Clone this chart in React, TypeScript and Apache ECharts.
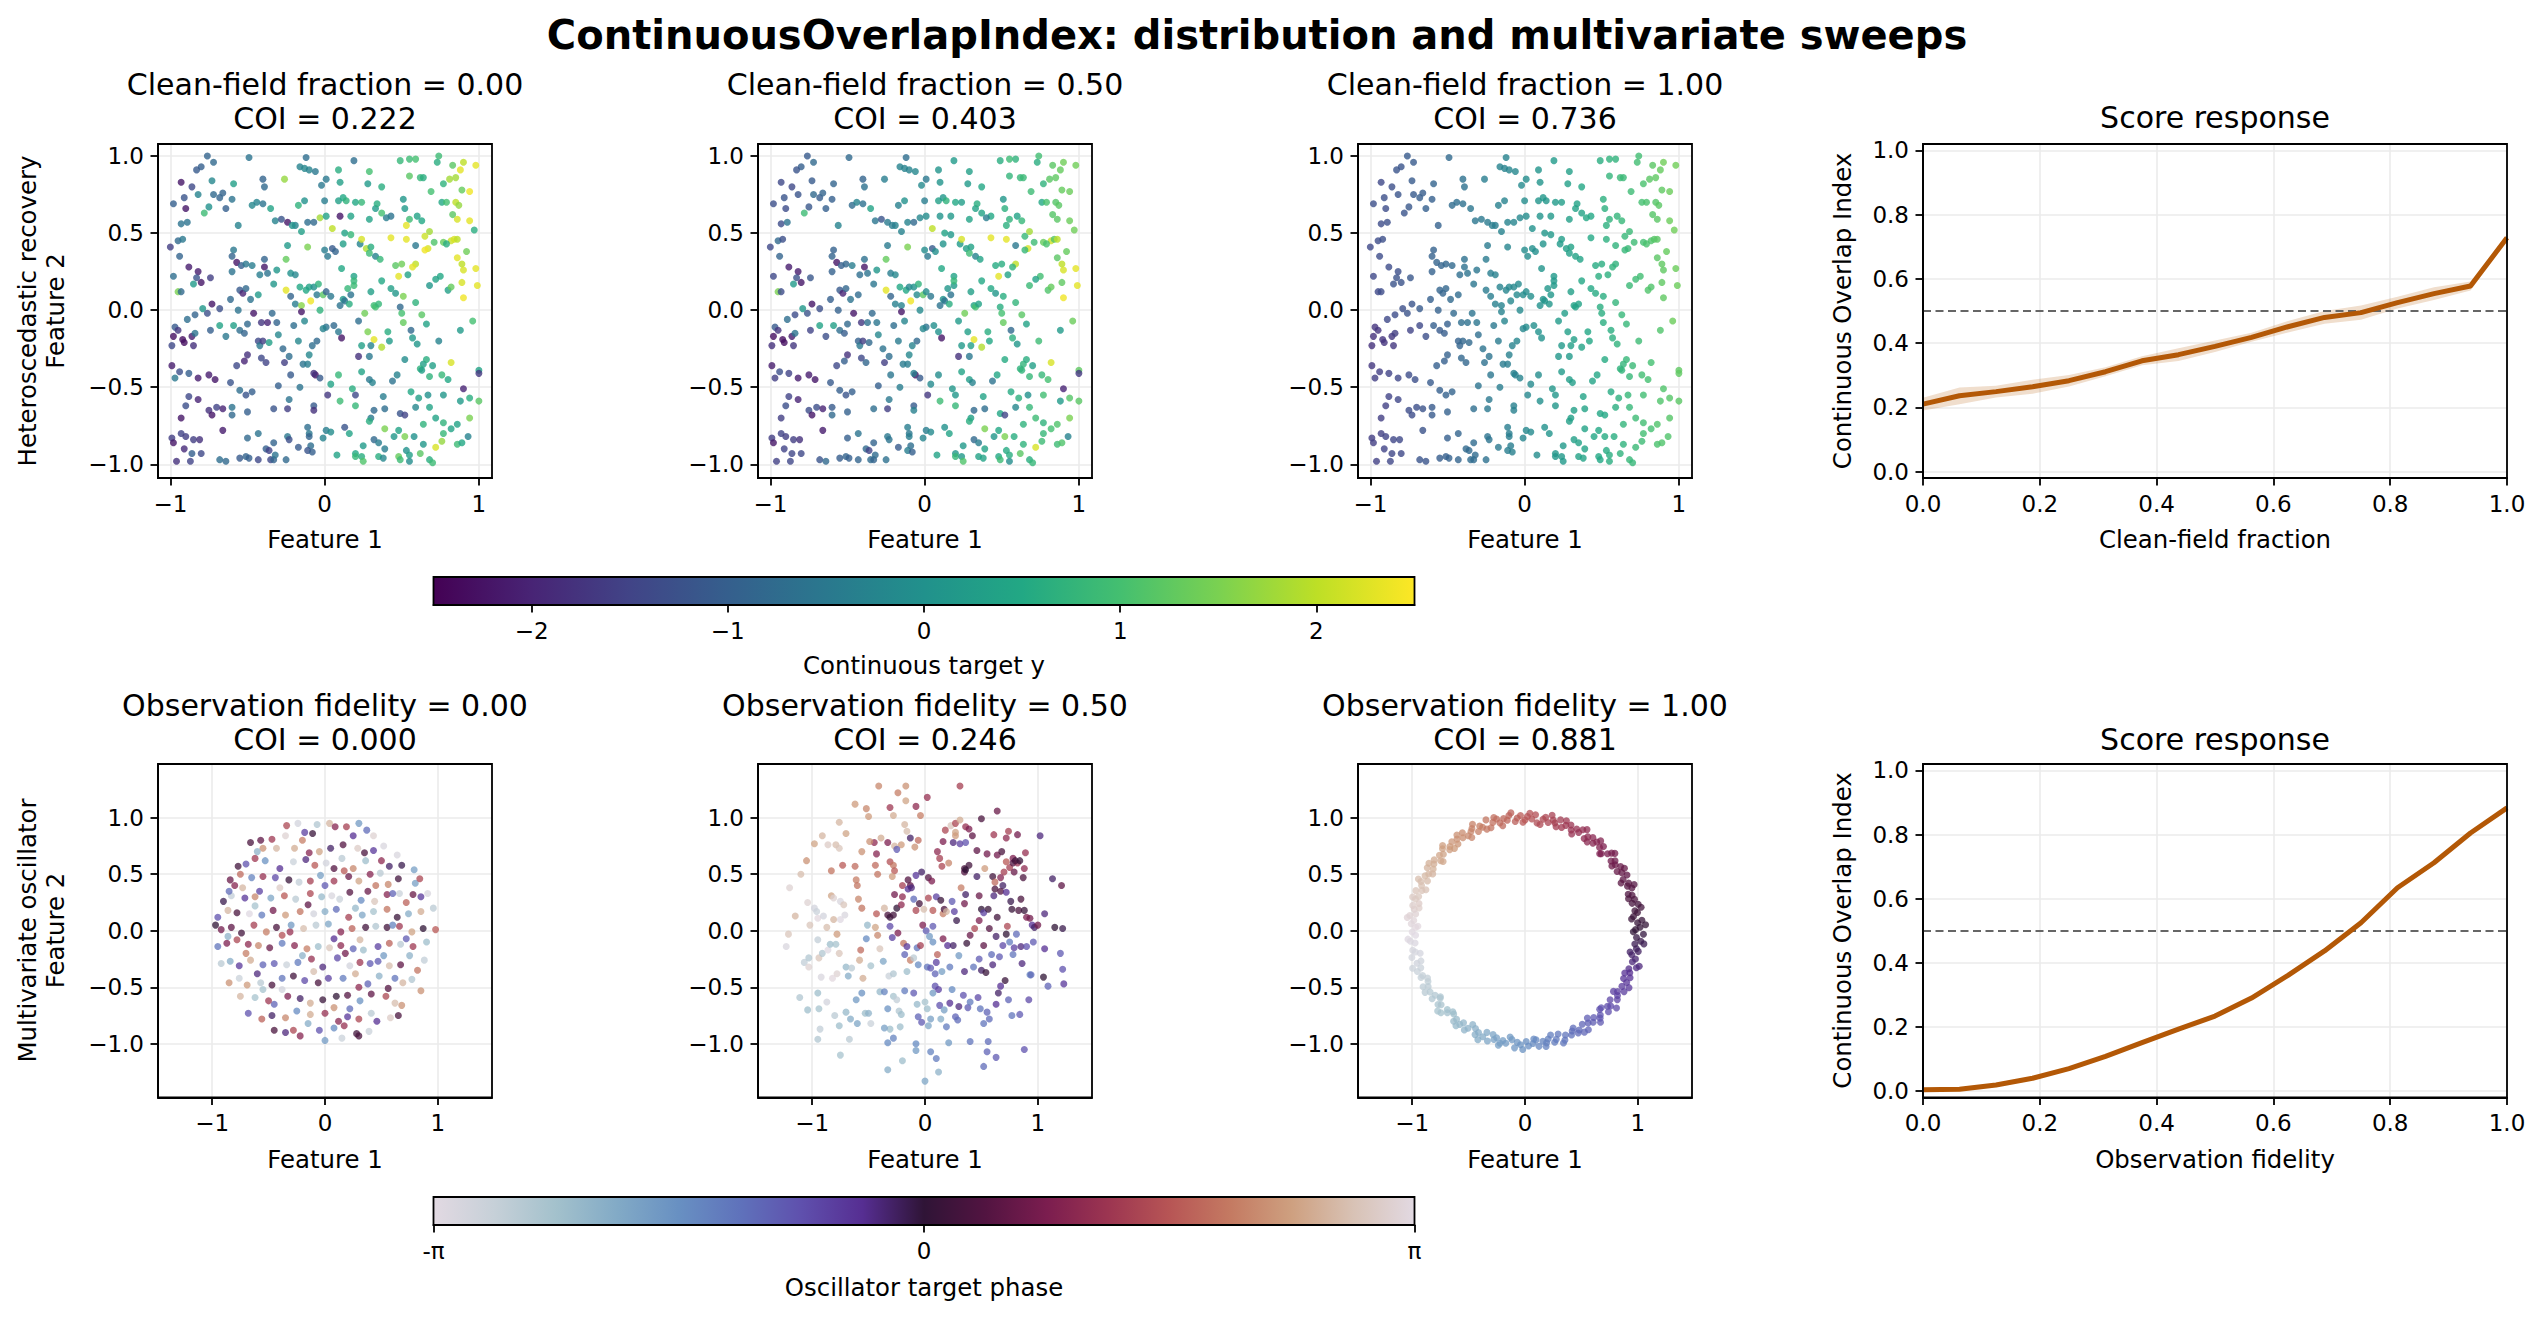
import React, { useEffect, useRef } from "react";
import * as echarts from "echarts";

const FONT = "'DejaVu Sans', 'Liberation Sans', Arial, sans-serif";

// ---------------- DATA ----------------
// Row 1 (heteroscedastic recovery): [feature1, feature2, y @ clean 0.00, y @ clean 0.50, y @ clean 1.00]
const HETERO_POINTS: number[][] = [
[-.76,1.0,-.9,-1.1,-1.1],[-.72,.96,-.8,-.8,-1.1],[-.49,.99,-.6,-.8,-.8],[-.80,.93,-1.0,-1.0,-1.2],[-.83,.91,-1.1,-1.2,-1.2],[-.12,.99,-.7,-.7,-.3],[.19,.97,-.7,.2,.2],[.49,.97,.8,.6,.6],[.55,.98,.9,.9,.7],[.59,.98,1.0,.7,.7],[.74,1.0,.9,.95,.95],[.73,.96,.6,.6,.95],[.90,.96,2.0,1.4,1.4],[.98,.94,2.3,1.4,1.4],[.83,.94,1.2,1.2,1.2],[.88,.91,2.3,1.3,1.3],[.09,.91,.6,.05,.05],[.29,.90,1.0,.3,.3],[-.16,.93,-.3,-.3,-.3],[-.13,.92,-.2,-.3,-.3],[-.10,.91,-.3,-.3,-.25],[-.06,.90,-.5,-.2,-.2],[-.93,.83,-2.2,-1.4,-1.4],[-.86,.80,-1.4,-1.4,-1.3],[-.73,.84,-.2,-1.1,-1.1],[.01,.85,-.5,-.5,-.1],[.10,.83,.3,.05,.05],[.28,.82,.2,.2,.3],[-.26,.85,1.7,-.4,-.4],[-.59,.82,.3,-.9,-.9],[.55,.87,1.2,.75,.75],[.62,.86,.8,.8,.85],[.64,.86,.6,.85,.85],[.77,.82,.7,.7,1.05],[.81,.85,1.8,1.2,1.2],[.85,.86,1.8,1.25,1.25],[-.40,.85,-.9,-.9,-.65],[-.39,.80,-.8,-.65,-.65],[.37,.80,.6,.45,.45],
[-.98,.69,-1.0,-1.3,-1.3],[-.91,.73,-1.2,-1.2,-1.3],[-.90,.66,-2.2,-1.35,-1.35],[-.82,.75,-.3,-1.2,-1.2],[-.78,.63,.9,.9,-1.2],[-.75,.67,.0,-1.15,-1.15],[-.72,.75,-.8,-.8,-1.1],[-.68,.73,-.9,-1.05,-1.05],[-.66,.76,-.9,-.9,-1.05],[-.64,.66,-1.0,-1.0,-1.0],[-.60,.72,-.6,-1.0,-1.0],[-.56,.55,-.3,-.3,-.95],[-.93,.56,-.6,-1.35,-1.35],[-.89,.57,-.6,-.6,-1.3],[-.47,.68,-.2,-.75,-.75],[-.44,.70,-.3,-.3,-.7],[-.40,.69,-.6,-.65,-.65],[-.35,.66,.4,.4,-.55],[-.32,.58,-.3,-.55,-.55],[-.28,.59,-1.2,-1.2,-.5],[-.24,.57,-2.2,-.45,-.45],[-.19,.55,-.3,-.3,-.4],[-.17,.68,.7,-.35,-.35],[-.13,.71,.0,.0,-.3],[-.11,.57,-.7,-.3,-.3],[-.07,.57,-.8,-.8,-.25],[-.03,.60,1.8,-.2,-.2],[.0,.71,-.4,-.4,-.1],[.01,.61,.4,-.1,-.1],[.05,.53,2.0,2.0,0],[.10,.61,-2.2,.05,.05],[.09,.71,.3,.3,.05],[.12,.73,.5,.1,.1],[.14,.71,.7,.7,.1],[.17,.61,.4,.15,.15],[.20,.70,.5,.5,.2],[.24,.70,.8,.25,.25],[.29,.59,.4,.4,.3],[.33,.66,.2,.35,.35],[.34,.69,.6,.6,.4],[.37,.63,1.0,.4,.4],[.43,.61,-.6,.5,.5],[.40,.60,-.4,-.4,.5],[.52,.66,.2,.65,.65],[.51,.72,.1,.1,.65],[.55,.59,.9,.7,.7],[.60,.61,.4,.4,.75],[.63,.58,.5,.8,.8],[.69,.77,1.0,.9,.9],[.76,.70,.5,.5,1.0],[.79,.70,1.0,1.05,1.05],[.85,.70,2.0,1.15,1.15],[.87,.68,1.7,1.2,1.2],[.89,.78,1.3,1.3,1.25],[.94,.77,2.4,1.35,1.35],[.94,.58,2.3,1.35,1.35],[.86,.59,2.2,1.2,1.2],[.83,.62,1.2,1.15,1.15],[.97,.52,.6,1.4,1.4],[.53,.55,2.3,.65,.65],[-.02,.81,-.5,-.15,-.15],[-.21,.55,.0,-.4,-.4],
[-1.0,.41,-1.6,-1.4,-1.4],[-.95,.45,-.8,-.8,-1.35],[-.92,.46,-.5,-1.3,-1.3],[-.94,.35,-.9,-.9,-1.35],[-.98,.22,-.7,-1.4,-1.4],[-.88,.28,-2.1,-2.1,-1.35],[-.82,.25,-2.1,-2.1,-1.3],[-.83,.21,-1.2,-1.25,-1.25],[-.80,.18,-2.2,-2.2,-1.25],[-.74,.21,-1.6,-1.15,-1.15],[-.85,.17,.2,.2,-1.25],[-.60,.25,-.6,-.95,-.95],[-.57,.31,-2.2,-2.2,-.9],[-.54,.29,-1.0,-1.0,-.9],[-.59,.39,-.5,-.95,-.95],[-.60,.35,-.9,-.9,-.95],[-.51,.30,-.5,-.85,-.85],[-.47,.29,-.4,-.4,-.8],[-.42,.23,-.4,-.7,-.7],[-.39,.28,-2.2,-2.2,-.65],[-.39,.33,-.9,-.65,-.65],[-.37,.24,-.6,-.6,-.6],[-.33,.17,.1,-.55,-.55],[-.31,.26,.1,.1,-.55],[-.24,.42,.2,-.45,-.45],[-.25,.33,1.3,1.3,-.45],[-.22,.24,.0,-.4,-.4],[-.19,.23,-.2,-.2,-.35],[-.15,.51,.3,-.3,-.3],[-.11,.41,1.5,1.5,-.25],[.0,.39,-.4,-.1,-.1],[.02,.35,-.5,-.5,-.1],[.05,.40,-1.1,-1.1,-.05],[.07,.38,-.9,-.05,-.05],[.11,.27,.5,.5,.05],[.12,.43,.3,.05,.05],[.13,.50,.4,.4,.1],[.17,.49,.8,.15,.15],[.19,.22,.4,.4,.15],[.23,.43,-.3,.2,.2],[.24,.46,2.2,2.2,.25],[.27,.40,1.9,.3,.3],[.29,.37,.9,.9,.3],[.30,.41,.6,.35,.35],[.33,.35,-.3,-.3,.35],[.36,.33,.8,.4,.4],[.43,.47,2.3,2.3,.5],[.46,.29,1.2,.55,.55],[.48,.22,2.3,2.3,.6],[.53,.46,2.3,2.3,.65],[.50,.30,1.4,.6,.6],[.54,.23,.4,.4,.65],[.59,.30,2.0,2.0,.7],[.59,.42,-.5,-.5,.7],[.65,.48,2.1,.8,.8],[.67,.40,2.2,2.2,.85],[.68,.51,1.8,1.8,.85],[.65,.39,2.4,.8,.8],[.71,.44,1.1,.9,.9],[.77,.44,1.3,1.3,1.0],[.75,.22,.5,.95,.95],[.72,.20,.4,.4,.9],[.82,.45,2.1,2.1,1.1],[.84,.46,2.2,1.15,1.15],[.86,.46,2.0,2.0,1.2],[.86,.34,2.3,1.2,1.2],[.89,.30,2.0,2.0,1.25],[.90,.26,2.2,2.2,1.25],[.92,.38,1.4,1.3,1.3],[.98,.27,2.3,2.3,1.35],[.79,.43,.6,1.05,1.05],[.57,.28,2.3,.7,.7],
[-.95,.12,1.5,1.5,-1.4],[-.93,.12,-.8,-1.35,-1.35],[-.89,-.06,-.7,-.7,-1.4],[-.84,-.03,-.9,-1.35,-1.35],[-.79,.01,.1,.1,-1.3],[-.76,-.02,-1.3,-1.25,-1.25],[-.73,.04,-2.2,-2.2,-1.2],[-.68,.01,-1.3,-1.3,-1.1],[-.61,.07,-.8,-1.0,-1.0],[-.59,-.10,.3,.3,-1.0],[-.56,.0,-.6,-.95,-.95],[-.55,.13,-1.1,-1.1,-.9],[-.53,.11,-2.0,-2.0,-.9],[-.51,.14,-.8,-.85,-.85],[-.48,.07,-.6,-.6,-.8],[-.46,-.02,-2.2,-2.2,-.8],[-.43,.10,.2,-.75,-.75],[-.41,-.08,-1.7,-1.7,-.7],[-.37,-.08,-2.0,-.65,-.65],[-.34,-.02,-.8,-.8,-.6],[-.31,-.08,-.9,-.55,-.55],[-.22,.09,-.9,-.9,-.4],[-.25,.13,2.3,2.3,-.45],[-.19,.04,-.4,-.35,-.35],[-.16,.15,.5,.5,-.3],[-.15,.03,1.6,-.3,-.3],[-.15,-.01,-2.2,-2.2,-.3],[-.13,-.07,-.2,-.25,-.25],[-.12,.13,.5,.5,-.25],[-.10,.15,.4,-.2,-.2],[-.09,.06,2.4,2.4,-.2],[-.07,.15,.0,.0,-.2],[-.05,.10,-.5,-.15,-.15],[-.04,.17,.7,.7,-.15],[-.03,.0,.7,-.15,-.15],[-.01,.10,1.2,1.2,-.1],[.01,.12,-.9,-.1,-.1],[.04,.09,-.5,-.5,-.05],[.06,-.1,-.8,-.05,-.05],[.10,.03,-.6,-.6,0],[.12,.07,.2,.05,.05],[.13,.06,-.6,-.6,.05],[.15,.14,.8,.1,.1],[.17,.10,-.6,-.6,.1],[.19,.16,.9,.15,.15],[.16,.04,.6,.6,.1],[.19,.19,.8,.8,.15],[.22,-.07,-.7,.2,.2],[.26,-.02,1.4,1.4,.25],[.30,.12,.3,.3,.3],[.32,.03,.9,.35,.35],[.33,.02,1.0,1.0,.35],[.35,.04,.8,.4,.4],[.37,.19,.5,.5,.45],[.43,.14,.3,.5,.5],[.46,.11,.1,.1,.55],[.49,.02,-.8,.6,.6],[.50,-.02,1.0,1.0,.6],[.51,.09,1.5,.6,.6],[.51,-.08,1.3,1.3,.6],[.59,.05,.7,.75,.75],[.63,-.03,1.2,1.2,.8],[.68,.16,.1,.85,.85],[.66,-.09,.4,.4,.8],[.80,.13,.3,1.1,1.1],[.82,.15,1.3,1.3,1.1],[.90,.08,2.4,2.4,1.25],[.96,-.07,1.0,1.35,1.35],[.99,.16,2.3,2.3,1.35],[.89,.18,2.2,1.25,1.25],[.01,-.11,-.6,-.6,-.1],
[-.98,-.17,-2.3,-2.3,-1.8],[-.99,-.23,-1.4,-1.8,-1.8],[-.97,-.11,-1.1,-1.1,-1.75],[-.95,-.13,-1.7,-1.75,-1.75],[-.92,-.19,-2.3,-2.3,-1.75],[-.91,-.21,-2.3,-2.3,-1.75],[-.86,-.17,-2.1,-2.1,-1.7],[-.85,-.23,-1.8,-1.7,-1.7],[-.84,-.15,-.6,-.6,-1.6],[-.74,-.13,-1.0,-1.5,-1.5],[-.68,-.10,.4,.4,-1.4],[-.64,-.17,-.5,-1.3,-1.3],[-.55,-.13,-.7,-.7,-1.1],[-.52,-.15,-.9,-1.05,-1.05],[-.50,-.09,-.8,-.8,-1.0],[-.43,-.20,-1.4,-.95,-.95],[-.42,-.23,-.5,-.5,-.9],[-.40,-.20,-1.6,-1.6,-.85],[-.36,-.21,.3,-.8,-.8],[-.30,-.16,-.2,-.2,-.7],[-.27,-.25,-.8,-.6,-.6],[-.20,-.10,-.7,-.7,-.5],[-.17,-.20,-.2,-.45,-.45],[-.10,-.29,-.2,-.2,-.35],[-.08,-.23,-.7,-.3,-.3],[-.05,-.20,-.8,-.8,-.25],[-.01,-.12,-.3,-.2,-.2],[.11,-.18,-2.2,-2.2,0],[.09,-.14,-.5,0,0],[.22,-.30,-1.8,-1.8,.1],[.24,-.23,.3,.15,.15],[.29,-.30,-.5,-.5,.2],[.28,-.14,1.5,.3,.3],[.32,-.19,2.3,2.3,.3],[.30,-.23,-.3,.3,.3],[.37,-.24,1.9,1.9,.4],[.42,-.20,.2,.45,.45],[.41,-.14,.6,.6,.45],[.52,-.32,-.1,.55,.55],[.56,-.13,-.8,-.8,.6],[.57,-.18,.2,.65,.65],[.60,-.22,.1,.1,.7],[.64,-.35,.3,.75,.75],[.66,-.32,.6,.6,.8],[.68,-.43,.7,.8,.8],[.70,-.36,.3,.3,.85],[.74,-.20,-.3,.9,.9],[.76,-.42,.8,.8,.95],[.82,-.34,2.2,2.2,1.0],[.80,-.45,.5,1.0,1.0],[.88,-.13,.2,.2,1.1],[1.0,-.39,.4,1.25,1.25],[1.0,-.41,-1.7,-1.7,1.25],[-.61,-.47,-1.2,-1.1,-1.1],[-.71,-.45,-2.2,-2.2,-1.3],[-.75,-.42,-2.1,-2.1,-1.35],[-.82,-.44,-2.1,-2.1,-1.45],[-.88,-.41,-1.0,-1.5,-1.5],[-.94,-.40,-1.3,-1.3,-1.6],[-.99,-.36,-2.1,-2.1,-1.7],[-.97,-.44,-.5,-1.6,-1.6],[-.57,-.36,-1.4,-1.4,-1.0],[-.52,-.33,-2.0,-1.0,-1.0],[-.50,-.29,-1.8,-1.8,-.95],[-.38,-.34,-1.5,-.85,-.85],[-.41,-.31,-1.4,-1.4,-.85],[-.26,-.34,-1.6,-1.6,-.65],[-.22,-.42,-1.1,-.55,-.55],[-.23,-.30,-.7,-.7,-.6],[-.14,-.35,-.6,-.45,-.45],[-.11,-.35,-.4,-.4,-.4],[-.06,-.42,-2.3,-2.3,-.35],[-.07,-.41,-1.8,-.35,-.35],[-.03,-.44,-1.1,-1.1,-.3],[.09,-.42,.8,-.1,-.1],[.24,-.40,.4,.4,.2],[.29,-.45,-.5,.25,.25],[.31,-.47,-.3,-.3,.25],[.47,-.42,-.3,.45,.45],[.44,-.46,-.6,-.6,.4],[.62,-.38,.7,.7,.7],[.63,-.39,.3,.75,.75],
[-.88,-.56,-1.4,-1.5,-1.5],[-.90,-.62,-1.3,-1.3,-1.55],[-.93,-.70,-2.2,-1.6,-1.6],[-.82,-.58,-2.0,-2.0,-1.45],[-.75,-.65,-1.8,-1.35,-1.35],[-.73,-.68,-2.2,-2.2,-1.35],[-.70,-.63,-1.5,-1.3,-1.3],[-.66,-.64,-2.0,-2.0,-1.25],[-.60,-.63,-.6,-1.1,-1.1],[-.60,-.68,-.8,-.8,-1.1],[-.55,-.52,-.7,-1.0,-1.0],[-.51,-.55,-1.2,-1.2,-.95],[-.50,-.66,-1.0,-.95,-.95],[-.47,-.53,-1.0,-1.0,-.9],[-.33,-.64,-1.2,-.7,-.7],[-.30,-.49,-1.0,-1.0,-.6],[-.23,-.58,-.6,-.5,-.5],[-.24,-.64,-1.6,-1.6,-.5],[-.16,-.50,-.6,-.4,-.4],[-.07,-.62,-1.1,-1.1,-.35],[-.07,-.65,-1.8,-.35,-.35],[.02,-.55,-1.7,-1.7,-.2],[.04,-.48,.4,-.15,-.15],[.10,-.59,.9,.9,-.05],[.18,-.51,.6,.1,.1],[.20,-.62,.8,.8,.1],[.20,-.55,-1.4,.1,.1],[.32,-.65,-.8,-.8,.3],[.30,-.70,-.5,.3,.3],[.29,-.72,.6,.6,.3],[.38,-.56,-.4,.4,.4],[.39,-.64,-.7,-.7,.4],[.49,-.67,-1.2,.45,.45],[.52,-.68,-1.5,-1.5,.5],[.56,-.53,.5,.55,.55],[.59,-.63,-.2,-.2,.6],[.61,-.57,.3,.65,.65],[.64,-.74,.7,.7,.75],[.68,-.63,.4,.8,.8],[.67,-.55,.0,.0,.8],[.72,-.70,.4,.9,.9],[.77,-.73,.7,.7,.95],[.77,-.55,.1,.95,.95],[.88,-.59,.2,.2,1.1],[.90,-.51,-2.0,-2.0,1.1],[.94,-.57,.6,1.15,1.15],[.94,-.70,1.5,1.5,1.15],[1.0,-.59,1.2,1.2,1.2],[.86,-.74,.4,1.1,1.1],
[-.99,-.83,-1.6,-1.6,-1.6],[-.98,-.86,-2.2,-2.2,-1.6],[-.96,-.98,-1.8,-1.55,-1.55],[-.93,-.80,-1.5,-1.5,-1.55],[-.91,-.90,-1.9,-1.5,-1.5],[-.90,-.82,-1.6,-1.6,-1.5],[-.87,-.98,-1.5,-1.45,-1.45],[-.85,-.84,-1.6,-1.6,-1.45],[-.86,-.93,-1.0,-1.45,-1.45],[-.81,-.84,-1.8,-1.8,-1.4],[-.80,-.93,-1.4,-1.4,-1.4],[-.68,-.97,-.7,-1.2,-1.2],[-.64,-.98,-.8,-.8,-1.2],[-.66,-.78,-2.1,-2.1,-1.25],[-.55,-.96,-1.1,-1.05,-1.05],[-.51,-.95,-.9,-.9,-1.0],[-.50,-.83,-.8,-1.0,-1.0],[-.49,-.96,-1.0,-1.0,-.95],[-.43,-.97,-1.4,-.9,-.9],[-.43,-.80,-.6,-.6,-.9],[-.38,-.90,-1.0,-.8,-.8],[-.36,-.91,-1.5,-1.5,-.8],[-.35,-.97,-1.4,-.75,-.75],[-.33,-.97,-.9,-.9,-.75],[-.32,-.94,-.6,-.75,-.75],[-.33,-.86,-.9,-.9,-.75],[-.25,-.97,-.8,-.65,-.65],[-.24,-.82,-.5,-.5,-.6],[-.23,-.84,-1.3,-.6,-.6],[-.17,-.89,-1.1,-1.1,-.5],[-.11,-.76,-.7,-.4,-.4],[-.10,-.80,-.5,-.5,-.4],[-.10,-.82,-.9,-.4,-.4],[-.09,-.88,-.7,-.7,-.4],[-.11,-.91,-1.2,-.4,-.4],[-.08,-.92,-1.0,-1.0,-.35],[-.01,-.83,-.3,-.25,-.25],[.01,-.78,-.4,-.4,-.2],[.04,-.79,-.1,-.15,-.15],[.08,-.94,.4,.4,-.1],[.13,-.76,-1.2,0,0],[.16,-.80,.4,.4,.05],[.20,-.93,.5,.1,.1],[.20,-.95,.8,.8,.1],[.24,-.95,.6,.15,.15],[.25,-.98,1.1,1.1,.15],[.25,-.88,.2,.15,.15],[.32,-.84,-.8,-.8,.3],[.35,-.95,.6,.35,.35],[.35,-.86,-.4,-.4,.35],[.38,-.96,-.2,.4,.4],[.39,-.77,1.5,1.5,.4],[.39,-.90,-.4,.4,.4],[.45,-.82,.1,.1,.45],[.48,-.95,1.3,.5,.5],[.49,-.97,.9,.9,.5],[.48,-.78,.4,.5,.5],[.52,-.82,1.5,1.5,.55],[.53,-.91,.0,.55,.55],[.55,-.98,-.1,-.1,.6],[.58,-.82,.0,.6,.6],[.62,-.93,1.2,1.2,.7],[.64,-.87,.1,.7,.7],[.68,-.97,.6,.6,.8],[.70,-.99,.9,.8,.8],[.72,-.89,2.2,2.2,.85],[.76,-.85,1.7,.9,.9],[.77,-.80,.8,.8,.95],[.82,-.77,.4,1.0,1.0],[.86,-.87,.9,.9,1.05],[.89,-.86,.5,1.1,1.1],[.93,-.82,-.3,-.3,1.1],[.55,-.94,.3,.6,.6]
];

// Row 2, fidelity 0.00: [feature1, feature2, phase]
const OSC_FID0: number[][] = [
[-.34,.93,1.4],[-.24,.95,-2.9],[-.07,.94,-2.5],[.04,.95,2.6],[.19,.92,1.3],[.30,.95,-1.7],
[-.47,.81,1.2],[-.35,.84,3.0],[-.18,.87,-.6],[-.11,.86,.1],[.09,.92,.9],[.37,.89,-1.1],[.43,.84,3.0],[-.57,.80,.5],
[-.66,.78,.3],[-.55,.73,2.2],[-.43,.73,2.6],[-.27,.73,2.5],[-.14,.69,.9],[-.05,.70,2.4],[.05,.73,-.2],[.16,.76,.4],[.29,.73,2.9],[.35,.69,.3],[.43,.71,-.5],[.52,.75,-3.0],[.64,.67,-3.0],
[-.77,.57,.2],[-.70,.59,-.8],[-.62,.64,1.2],[-.53,.62,-1.6],[-.40,.55,-.4],[-.28,.61,-2.8],[-.17,.63,-.3],[-.09,.58,1.6],[.01,.60,-2.9],[.08,.55,.4],[.17,.53,1.6],[.25,.55,2.1],[.36,.62,-2.3],[.49,.51,-2.6],[.57,.57,-.2],[.68,.58,-.1],[.79,.54,-1.8],
[-.84,.45,.6],[-.80,.40,.9],[-.73,.38,2.6],[-.65,.47,-1.4],[-.55,.48,1.1],[-.44,.47,-.7],[-.32,.45,.1],[-.23,.43,-2.7],[-.13,.44,1.3],[-.04,.49,-1.8],[.08,.44,1.2],[.21,.48,.6],[.30,.44,2.4],[.45,.40,1.9],[.56,.41,2.1],[.65,.46,.2],[.80,.42,-1.8],[.84,.46,1.4],
[-.90,.26,-.1],[-.83,.31,-2.7],[-.71,.29,-.5],[-.62,.30,2.1],[-.48,.29,-1.9],[-.36,.31,1.6],[-.26,.28,-2.6],[-.13,.33,1.4],[-.03,.30,-2.2],[.06,.31,-3.0],[.13,.28,-2.8],[.22,.34,.4],[.32,.27,-1.5],[.44,.26,2.8],[.55,.32,.9],[.66,.33,-2.8],[.78,.32,.6],[.91,.33,-3.0],
[-.95,.12,-.8],[-.86,.18,2.6],[-.78,.16,.3],[-.67,.15,-3.1],[-.56,.14,-1.3],[-.46,.18,.7],[-.35,.14,2.3],[-.22,.17,1.9],[-.10,.15,-2.9],[.0,.17,-2.0],[.10,.19,-1.1],[.21,.12,1.3],[.33,.14,-1.9],[.43,.17,-2.4],[.55,.19,1.9],[.64,.12,.1],[.74,.15,-2.0],[.85,.17,2.5],[.96,.20,-2.6],
[-.97,.05,0],[-.92,.01,.7],[-.83,.03,.5],[-.74,-.02,.2],[-.63,.05,1.3],[-.52,-.01,2.0],[-.43,.03,.3],[-.31,-.01,1.1],[-.19,.02,2.7],[-.08,.05,-2.6],[.03,.06,-1.9],[.14,-.01,.9],[.24,.02,1.7],[.36,.03,.2],[.45,.04,-2.5],[.55,.03,.2],[.66,.04,1.2],[.77,-.01,2.4],[.87,.02,0],[.98,.01,1.6],
[-.95,-.14,-1.2],[-.87,-.11,.8],[-.78,-.08,1.4],[-.68,-.12,1.0],[-.59,-.13,2.1],[-.49,-.15,.6],[-.38,-.11,-1.3],[-.27,-.13,.9],[-.16,-.16,2.0],[-.06,-.14,-2.3],[.04,-.15,2.8],[.14,-.13,1.0],[.25,-.16,-1.0],[.34,-.17,-2.3],[.47,-.14,-.6],[.57,-.11,1.7],[.67,-.12,-2.6],[.78,-.14,1.2],[.90,-.10,-2.3],
[-.92,-.29,-2.6],[-.84,-.27,-2.0],[-.76,-.31,-.5],[-.66,-.26,2.5],[-.55,-.30,-1.0],[-.45,-.29,-.9],[-.34,-.30,-2.8],[-.24,-.28,-1.3],[-.12,-.25,1.1],[-.02,-.32,-.3],[.11,-.24,-.7],[.22,-.31,-2.9],[.31,-.28,1.2],[.40,-.29,-.9],[.47,-.27,-.9],[.57,-.31,2.7],[.67,-.30,.5],[.75,-.22,-2.1],[.88,-.26,-2.7],
[-.85,-.46,2.2],[-.76,-.42,-2.8],[-.69,-.48,2.3],[-.57,-.46,-2.6],[-.47,-.48,.3],[-.38,-.42,-1.2],[-.28,-.40,.2],[-.18,-.44,-.7],[-.06,-.46,.3],[.03,-.42,-.6],[.16,-.42,-1.3],[.27,-.38,2.5],[.38,-.47,-1.0],[.48,-.40,-2.1],[.56,-.51,.4],[.69,-.46,2.6],[.77,-.43,-2.5],[.85,-.53,2.2],
[-.75,-.58,2.6],[-.62,-.59,-2.4],[-.55,-.52,-2.4],[-.45,-.65,-1.0],[-.33,-.58,.8],[-.22,-.60,-.2],[-.13,-.64,2.5],[-.02,-.61,.1],[.10,-.58,0],[.20,-.57,.4],[.31,-.62,-1.6],[.41,-.56,.5],[.54,-.58,1.4],[.62,-.64,2.7],[.68,-.66,2.2],
[-.68,-.73,-.8],[-.56,-.78,1.7],[-.47,-.75,-.2],[-.35,-.77,2.1],[-.25,-.71,-1.5],[-.13,-.74,2.5],[0,-.73,1.1],[.12,-.80,.9],[.20,-.76,-.5],[.30,-.78,1.4],[.41,-.73,-2.6],[.58,-.77,2.9],[.65,-.75,.3],
[-.45,-.88,.3],[-.35,-.90,-.3],[-.22,-.93,.9],[-.05,-.88,-.8],[0,-.97,-1.7],[.08,-.86,-1.5],[.15,-.95,-2.8],[.17,-.84,1.1],[.28,-.91,.2],[.39,-.89,-2.8],[-.28,-.88,1.4],[.30,-.93,.3],
[-.60,.70,-2.1],[-.20,.80,2.0],[.25,.84,-.4],[.50,.62,1.0],[-.85,.35,-1.1],[-.40,.38,2.9],[0,.40,-.9],[.38,.35,.6],[.72,.25,1.7],[-.62,.22,-2.4],[-.15,.23,.5],[.27,.20,-2.2],[.60,.05,-1.4],[-.86,-.05,-2.1],[-.38,-.04,1.5],[.08,-.07,-.4],[.31,-.08,2.6],[.72,-.07,-.9],[-.70,-.20,2.0],[-.20,-.22,-2.1],[.18,-.20,.7],[.52,-.22,-1.7],[.82,-.35,1.9],[-.60,-.38,-.3],[-.10,-.36,2.7],[.30,-.50,1.0],[.62,-.42,-1.2],[-.38,-.52,-2.9],[.08,-.68,2.2],[.46,-.80,-.4],[-.50,-.62,1.2],[-.15,-.82,-2.0],[.22,-.69,-1.1],[-.58,.35,-.6],[.15,.64,-2.6],[.60,.33,-1.0],[-.30,.05,-1.7],[.40,.50,.9],[-.75,.50,1.8],[.85,.30,-.5]
];

// Row 2, fidelity 0.50: [feature1, feature2, phase]
const OSC_FID50: number[][] = [
[-.41,1.28,2.1],[-.24,1.22,2.0],[-.17,1.28,2.2],[-.17,1.15,2.4],[.02,1.18,1.1],[.31,1.28,1.3],[-.31,1.09,1.2],[-.08,1.10,1.0],[-.04,1.02,2.0],[-.28,1.02,2.5],[-.62,1.12,2.3],[-.52,1.08,2.1],[-.50,1.01,2.3],[-.76,.96,2.6],[-.70,.86,2.4],[-.91,.84,2.6],[-.98,.77,2.4],[-.18,.94,2.6],[-.16,.88,2.7],[-.13,.82,-.2],[-.06,.80,1.8],[-.09,.74,2.2],[-.39,.82,2.5],[-.45,.78,1.0],[-.49,.79,2.2],[-.33,.78,.8],[-.27,.75,2.6],[-.21,.76,2.3],[-.25,.72,-.9],[.18,.89,1.4],[.23,.93,2.8],[.27,.95,1.4],[.31,.98,2.5],[.36,.92,1.1],[.39,.90,.8],[.42,.84,.5],[.27,.87,2.4],[.25,.78,-.3],[.31,.77,-.6],[.36,.78,-.8],[.50,.99,.3],[.64,1.06,.6],[.61,.85,1.2],[.74,.88,1.3],[.82,.85,.7],[.72,.82,1.0],[1.02,.84,-.3],
[-1.05,.62,2.2],[-1.10,.50,2.7],[-.83,.53,1.9],[-.86,.76,2.9],[-.79,.76,2.7],[-.76,.73,2.8],[-.73,.58,1.6],[-.62,.57,1.8],[-.61,.45,2.0],[-.60,.40,1.9],[-.56,.70,2.2],[-.43,.68,.9],[-.44,.58,1.8],[-.31,.61,1.5],[-.28,.58,1.9],[-.27,.53,1.6],[-.42,.50,1.9],[-.29,.48,2.3],[-.15,.45,.4],[-.20,.40,1.3],[-.13,.40,.5],[-.08,.49,-.5],[-.03,.52,-.2],[.03,.47,.4],[.06,.44,.8],[.11,.70,1.0],[.13,.64,1.3],[.15,.57,1.4],[.16,.79,.8],[.21,.60,2.1],[.27,.84,2.3],[.35,.55,.3],[.39,.58,.2],[.35,.52,.4],[.36,.54,0],[.46,.48,-.2],[.46,.71,.5],[.53,.55,2.3],[.55,.68,.7],[.60,.48,.2],[.64,.67,.7],[.68,.70,.3],[.70,.52,1.3],[.72,.61,1.6],[.75,.56,1.3],[.78,.64,.8],[.78,.60,.4],[.79,.52,.6],[.82,.60,1.1],[.80,.62,.2],[.84,.62,.1],[.88,.55,1.0],[.89,.69,1.1],[.87,.47,.3],[1.13,.46,-.2],[1.21,.40,.5],[.62,.43,1.8],[.67,.47,.9],[.69,.40,-.2],
[-1.20,.38,3.0],[-1.15,.13,2.6],[-1.21,-.03,2.8],[-1.04,.25,3.0],[-1.02,.05,2.8],[-.98,.20,-2.9],[-.95,.11,3.1],[-.96,.17,-2.8],[-.90,.13,-2.9],[-.87,.03,2.7],[-.83,.31,2.4],[-.81,.29,3.0],[-.81,.10,2.6],[-.75,.26,-3.0],[-.75,.10,-3.1],[-.72,.23,2.8],[-.71,.14,-3.0],[-.78,-.03,2.3],[-.59,.28,2.1],[-.56,.20,1.9],[-.51,.05,-2.2],[-.43,.15,1.6],[-.44,.03,2.4],[-.42,-.04,2.1],[-.36,.20,2.6],[-.33,.14,.3],[-.31,.12,.1],[-.28,.14,.2],[-.31,.04,-.7],[-.27,.32,.7],[-.25,.20,0],[-.21,.23,1.0],[-.20,.30,1.0],[-.15,.37,-.4],[-.12,.38,-.3],[-.10,.28,-1.1],[-.08,.18,1.4],[-.05,.24,.2],[-.02,.05,.8],[-.01,.19,2.7],[.03,.29,1.4],[.07,.18,1.6],[.07,.04,-.9],[.10,.30,-.6],[.14,.27,.1],[.16,.15,2.0],[.17,.19,.3],[.19,.17,2.6],[.24,.26,-.9],[.26,.17,-.6],[.28,.09,-.1],[.32,.38,2.0],[.35,.24,.7],[.36,.32,-.2],[.44,.02,1.4],[.48,.09,.8],[.50,.19,0],[.52,.16,-.6],[.56,.19,.1],[.57,.02,.4],[.61,.31,-.3],[.64,.12,.2],[.67,.35,.4],[.72,.34,-.4],[.73,.04,1.4],[.77,.19,.1],[.83,.18,.3],[.88,.18,.1],[.90,.12,.8],[.93,.11,.7],[.95,.05,-.4],[.97,.03,-.2],[1.0,.05,.7],[1.06,.15,-.3],[1.15,.03,0],[1.22,.02,-.1],[.85,.28,.3],[.76,.26,-.1],[.62,.37,.3],[.48,.31,.6],
[-1.23,-.14,-3.0],[-1.07,-.28,-2.7],[-1.03,-.32,3.0],[-1.03,-.24,-2.5],[-.95,-.08,-2.7],[-.94,-.24,2.8],[-.92,-.41,-3.0],[-.91,-.20,-2.5],[-.86,-.17,-3.1],[-.84,-.12,-2.3],[-.82,-.42,3.1],[-.79,-.12,-2.4],[-.76,-.20,2.8],[-.78,-.38,3.0],[-.70,-.32,-2.2],[-.65,-.33,-2.6],[-.68,-.40,-2.0],[-.58,-.26,2.5],[-.57,-.17,1.8],[-.52,-.07,-1.5],[-.55,-.42,2.5],[-.48,-.31,-2.4],[-.40,-.16,2.8],[-.37,-.27,-1.9],[-.32,-.40,-2.8],[-.28,-.38,-2.5],[-.29,-.06,-.6],[-.24,-.02,.8],[-.19,-.11,1.9],[-.18,-.21,-1.0],[-.16,-.14,-.5],[-.13,-.26,2.0],[-.10,-.24,-2.6],[-.07,-.15,-1.2],[-.06,-.30,-1.5],[-.04,-.13,1.3],[.01,0,-.9],[.02,-.32,-1.2],[.04,-.05,-1.7],[.05,-.33,-.9],[.07,-.10,-1.6],[.09,-.38,-1.0],[.10,-.28,-.6],[.11,-.21,1.7],[.15,-.36,-1.8],[.16,-.07,.8],[.20,-.13,-.4],[.22,-.32,-1.3],[.25,-.13,-.2],[.30,-.22,-1.7],[.35,-.36,-.3],[.37,-.11,.1],[.40,-.04,.6],[.43,-.32,-1.2],[.48,-.25,-.9],[.50,-.35,-.2],[.54,-.37,.1],[.52,-.13,.5],[.59,-.21,-1.1],[.60,-.30,-.3],[.63,-.05,-.2],[.69,-.13,-.7],[.72,-.03,0],[.75,-.10,-1.3],[.78,-.21,-1.2],[.79,-.15,-.6],[.81,-.03,-1.1],[.85,-.14,-.3],[.86,-.29,-.3],[.90,-.14,-.8],[.93,-.39,-1.4],[.96,-.10,-.9],[1.06,-.16,-.4],[1.20,-.20,-.9],[1.22,-.34,-.8],[.71,-.44,.1],[.66,-.23,-.9],
[-1.11,-.59,-2.5],[-1.04,-.70,-2.3],[-.95,-.55,-2.3],[-.94,-.69,-2.4],[-.95,-.96,-2.5],[-.93,-.87,-2.7],[-.87,-.63,-2.9],[-.80,-.75,-2.6],[-.76,-.84,-2.3],[-.75,-1.10,-2.4],[-.70,-.72,-2.2],[-.67,-.96,-2.6],[-.66,-.78,-2.0],[-.61,-.61,-1.7],[-.60,-.82,-1.9],[-.56,-.55,-1.6],[-.53,-.73,-2.3],[-.50,-.73,-2.1],[-.48,-.82,-2.8],[-.40,-.54,-2.2],[-.36,-.54,-1.4],[-.33,-.69,-1.6],[-.31,-.87,-2.3],[-.28,-.58,-2.4],[-.28,-.95,-1.4],[-.25,-.61,-2.7],[-.23,-.71,-2.5],[-.22,-.85,-2.3],[-.21,-.74,-2.3],[-.18,-.53,-1.3],[-.16,-.36,-2.3],[-.10,-.55,-.9],[-.07,-.65,-2.2],[-.06,-.76,-1.0],[-.08,-1.0,-1.5],[-.03,-.81,-.9],[0,-.63,-2.4],[.02,-.69,-2.3],[.03,-.84,-1.9],[.05,-.78,-1.8],[.07,-.55,-1.7],[.09,-.49,-.8],[.12,-.52,-.6],[.13,-.66,-.8],[.14,-.78,-2.0],[.17,-.70,-1.8],[.19,-.85,-1.3],[.22,-.64,-.4],[.24,-.52,-1.5],[.27,-.76,-1.0],[.29,-.79,-1.1],[.30,-.67,-.3],[.34,-.57,-.8],[.38,-.68,-.9],[.40,-.63,-1.3],[.47,-.59,-.7],[.49,-.69,-1.2],[.55,-.72,-1.0],[.52,-.82,-1.2],[.57,-.78,-1.1],[.63,-.65,-.4],[.65,-.55,-.2],[.67,-.49,-.4],[.74,-.61,-1.0],[.77,-.75,-1.2],[.84,-.74,-.9],[.92,-.61,-.7],[.94,-.39,-1.1],[1.05,-.41,0],[1.09,-.49,-1.0],[1.23,-.47,-.5],[-.33,-1.23,-2.0],[-.20,-1.15,-2.3],[0,-1.33,-1.9],[.05,-1.07,-1.4],[.12,-1.25,-2.1],[.10,-1.13,-1.3],[.21,-.99,-1.7],[.40,-.98,-1.2],[.52,-1.20,-1.1],[.55,-1.07,-1.0],[.63,-1.12,-.9],[.88,-1.05,-.8],[-.33,-.99,-1.5],[-.08,-1.06,-1.7],[-.36,-.86,-1.8],[.56,-.98,-1.1]
];

// Row 2, fidelity 1.00: points on the ring, [radius, phase]; the phase is also the point's angle
const OSC_FID100_POLAR: number[][] = [
[1.00,-3.13],[.97,-3.10],[1.02,-3.05],[.98,-3.03],[1.01,-2.97],[.99,-2.95],[1.03,-2.91],[.96,-2.86],[1.00,-2.85],[.98,-2.80],[1.02,-2.78],[.99,-2.73],[1.01,-2.72],[.97,-2.66],[1.03,-2.64],[.99,-2.62],[1.00,-2.57],[.98,-2.52],[1.02,-2.51],[.96,-2.47],[1.01,-2.44],[.99,-2.42],[1.04,-2.37],[.98,-2.35],[1.00,-2.33],[.97,-2.28],[1.02,-2.24],[.99,-2.23],[1.01,-2.18],[.98,-2.16],[1.03,-2.12],[1.00,-2.10],[.97,-2.04],[1.02,-2.02],[.99,-2.00],[1.01,-1.95],[.96,-1.93],[1.03,-1.90],[1.00,-1.85],[.98,-1.83],[1.02,-1.79],[.99,-1.77],[1.01,-1.74],[.97,-1.69],[1.04,-1.66],[.99,-1.64],[1.01,-1.61],[.98,-1.56],[1.02,-1.54],[1.00,-1.50],[.97,-1.47],[1.03,-1.45],[.99,-1.41],[1.01,-1.38],[.98,-1.36],[1.02,-1.31],[1.00,-1.29],[.96,-1.26],[1.03,-1.22],[.99,-1.20],[1.01,-1.15],[.98,-1.13],[1.02,-1.09],[1.00,-1.07],[.97,-1.02],[1.04,-1.00],[.99,-.97],[1.01,-.93],[.98,-.90],[1.02,-.86],[1.00,-.84],[.96,-.81],[1.03,-.77],[.99,-.74],[1.01,-.72],[.97,-.68],[1.02,-.64],[1.00,-.61],[.98,-.58],[1.03,-.55],[.99,-.52],[1.01,-.47],[.97,-.45],[1.02,-.42],[1.00,-.38],[.98,-.35],[1.04,-.32],[.99,-.28],[1.01,-.25],[.97,-.22],[1.02,-.18],[1.00,-.16],[.98,-.12],[1.03,-.09],[.99,-.06],[1.05,-.03],[.98,.01],[1.02,.03],[1.00,.07],[1.04,.09],[.97,.13],[1.01,.16],[.99,.18],[1.03,.23],[.98,.25],[1.01,.28],[1.00,.32],[.97,.34],[1.02,.38],[.99,.41],[1.01,.43],[.98,.48],[1.03,.50],[1.00,.54],[.97,.57],[1.02,.59],[.99,.63],[1.01,.66],[.98,.68],[1.03,.73],[1.00,.75],[.96,.79],[1.02,.82],[.99,.84],[1.01,.89],[.98,.91],[1.02,.94],[1.00,.98],[.97,1.00],[1.03,1.05],[.99,1.07],[1.01,1.10],[.98,1.14],[1.02,1.16],[1.00,1.20],[.97,1.23],[1.03,1.26],[.99,1.30],[1.01,1.32],[.98,1.36],[1.02,1.39],[1.00,1.41],[.96,1.46],[1.03,1.48],[.99,1.51],[1.01,1.55],[.98,1.57],[1.02,1.61],[1.00,1.64],[.97,1.66],[1.03,1.71],[.99,1.73],[1.01,1.76],[.98,1.80],[1.02,1.82],[1.00,1.86],[.96,1.89],[1.04,1.91],[.99,1.96],[1.01,1.98],[.97,2.01],[1.02,2.05],[1.00,2.07],[.98,2.11],[1.03,2.14],[.99,2.16],[1.01,2.21],[.97,2.23],[1.02,2.26],[1.00,2.30],[.98,2.32],[1.03,2.36],[.99,2.39],[1.01,2.42],[.97,2.45],[1.02,2.48],[1.00,2.51],[.98,2.55],[1.03,2.57],[.99,2.61],[1.01,2.64],[.97,2.67],[1.02,2.70],[1.00,2.73],[.98,2.77],[1.03,2.79],[.99,2.83],[1.01,2.86],[.97,2.89],[1.02,2.92],[1.00,2.95],[.98,2.99],[1.03,3.01],[.99,3.05],[1.01,3.08],[.97,3.11],
[1.04,-3.07],[.95,-2.93],[1.05,-2.82],[.96,-2.69],[1.04,-2.59],[.95,-2.48],[1.05,-2.40],[.96,-2.30],[1.04,-2.20],[.95,-2.08],[1.05,-1.98],[.96,-1.87],[1.04,-1.80],[.95,-1.71],[1.05,-1.59],[.96,-1.49],[1.04,-1.39],[.95,-1.33],[1.05,-1.24],[.96,-1.11],[1.04,-1.04],[.95,-.95],[1.05,-.88],[.96,-.79],[1.06,-.70],[.95,-.60],[1.05,-.50],[.96,-.40],[1.06,-.30],[.95,-.20],[1.06,-.11],[.96,-.01],[1.07,.05],[.95,.11],[1.05,.20],[.96,.30],[1.05,.40],[.95,.46],[1.04,.56],[.96,.64],[1.05,.71],[.95,.80],[1.04,.87],[.96,.96],[1.05,1.02],[.95,1.12],[1.04,1.21],[.96,1.28],[1.05,1.34],[.95,1.43],[1.04,1.53],[.96,1.59],[1.05,1.69],[.95,1.78],[1.04,1.84],[.96,1.93],[1.05,2.03],[.95,2.09],[1.04,2.19],[.96,2.28],[1.05,2.34],[.95,2.44],[1.04,2.53],[.96,2.59],[1.05,2.69],[.95,2.75],[1.04,2.85],[.96,2.93],[1.05,3.03],[.95,3.10]
];

// Score response sweeps
const SWEEP_X = [0, 0.0625, 0.125, 0.1875, 0.25, 0.3125, 0.375, 0.4375, 0.5, 0.5625, 0.625, 0.6875, 0.75, 0.8125, 0.875, 0.9375, 1.0];
const CLEAN_MEAN = [0.210, 0.236, 0.249, 0.264, 0.283, 0.311, 0.345, 0.364, 0.390, 0.418, 0.451, 0.480, 0.495, 0.526, 0.554, 0.578, 0.728];
const CLEAN_SD = [0.020, 0.026, 0.018, 0.022, 0.018, 0.014, 0.014, 0.020, 0.018, 0.014, 0.018, 0.020, 0.022, 0.018, 0.020, 0.014, 0.010];
const FID_MEAN = [0.004, 0.006, 0.019, 0.040, 0.070, 0.108, 0.151, 0.193, 0.234, 0.290, 0.361, 0.437, 0.525, 0.634, 0.712, 0.805, 0.883];
const FID_SD = [0.002, 0.002, 0.003, 0.003, 0.003, 0.003, 0.004, 0.004, 0.004, 0.004, 0.004, 0.004, 0.004, 0.004, 0.004, 0.004, 0.003];
const THRESHOLD = 0.5;

const CLEAN_LABELS = ["0.00", "0.50", "1.00"];
const CLEAN_COI = ["0.222", "0.403", "0.736"];
const FID_LABELS = ["0.00", "0.50", "1.00"];
const FID_COI = ["0.000", "0.246", "0.881"];

const SCATTER_XTICKS = [-1, 0, 1];
const SCATTER_YTICKS = [-1, -0.5, 0, 0.5, 1];
const SWEEP_TICKS = [0, 0.2, 0.4, 0.6, 0.8, 1.0];
const CB1_TICKS = [-2, -1, 0, 1, 2];
const CB2_TICKS = [-Math.PI, 0, Math.PI];
const Y_RANGE = [-2.5, 2.5];
const PHASE_RANGE = [-Math.PI, Math.PI];

const VIRIDIS = ["#440154", "#482475", "#414487", "#355f8d", "#2a788e", "#21918c", "#22a884", "#44bf70", "#7ad151", "#bddf26", "#fde725"];
const TWILIGHT = ["#e2d9e2", "#c6d0d8", "#a3c1cc", "#82aac6", "#6890c2", "#5f72bb", "#5f50ad", "#562e92", "#2f1436", "#521441", "#7b1d4f", "#9c3551", "#b75555", "#c47a62", "#cea080", "#d8c2b5", "#e2d9e2"];

const LINE_COLOR = "#b35806";

// ---------------- HELPERS ----------------
const minus = (s: string) => s.replace("-", "\u2212");
const TICK_FS = 23;
const LABEL_FS = 24.4;
const TITLE_FS = 30;

function axis(gridIndex: number, min: number, max: number, ticks: number[] | null, fmt: (v: number) => string, opts: any = {}) {
  return {
    type: "value",
    gridIndex,
    min,
    max,
    axisLine: { show: true, onZero: false, lineStyle: { color: "#000", width: 1.8 } },
    axisTick: ticks ? { show: true, inside: false, length: 7.5, customValues: ticks, lineStyle: { color: "#000", width: 1.8 } } : { show: false },
    axisLabel: ticks ? { show: true, customValues: ticks, formatter: fmt, fontSize: TICK_FS, fontFamily: FONT, color: "#000", margin: 14 } : { show: false },
    splitLine: { show: !!ticks, lineStyle: { color: "#ebebeb", width: 1.6 } },
    ...opts,
  };
}

function text(x: number, y: number, str: string, size: number, opts: any = {}) {
  return {
    type: "text",
    x,
    y,
    rotation: opts.rotation || 0,
    z: 100,
    style: {
      text: str,
      font: `${opts.bold ? "bold " : ""}${size}px ${FONT}`,
      fill: "#000",
      textAlign: "center",
      textVerticalAlign: "middle",
      align: "center",
      verticalAlign: "middle",
      lineHeight: opts.lineHeight || Math.round(size * 1.25),
    },
  };
}

function buildOption() {
  const scatterLefts = [158, 758, 1358];
  const rowTops = [144, 764];
  const S = 334;
  const grids: any[] = [];
  rowTops.forEach((top) => {
    const h = S - (top > 500 ? 0.5 : 0);
    scatterLefts.forEach((left) => grids.push({ left, top, width: S, height: h }));
    grids.push({ left: 1923, top, width: 584, height: h });
  });
  grids.push({ left: 433.5, top: 577, width: 981, height: 28 });
  grids.push({ left: 433.5, top: 1197, width: 981, height: 28 });
  grids.forEach((g) => Object.assign(g, { show: true, borderColor: "#000", borderWidth: 1.8, backgroundColor: "transparent", z: 10 }));

  const fmtInt = (v: number) => minus(String(Math.round(v)));
  const fmt1 = (v: number) => minus(v.toFixed(1));
  const fmtPhase = (v: number) => (v < -0.1 ? "-π" : v > 0.1 ? "π" : "0");

  const xAxis: any[] = [];
  const yAxis: any[] = [];
  for (let i = 0; i < 3; i++) {
    xAxis.push(axis(i, -1.08, 1.085, SCATTER_XTICKS, fmtInt));
    yAxis.push(axis(i, -1.089, 1.078, SCATTER_YTICKS, fmt1));
  }
  xAxis.push(axis(3, 0, 1, SWEEP_TICKS, fmt1));
  yAxis.push(axis(3, -0.02, 1.02, SWEEP_TICKS, fmt1));
  for (let i = 4; i < 7; i++) {
    xAxis.push(axis(i, -1.48, 1.48, SCATTER_XTICKS, fmtInt));
    yAxis.push(axis(i, -1.475, 1.475, SCATTER_YTICKS, fmt1));
  }
  xAxis.push(axis(7, 0, 1, SWEEP_TICKS, fmt1));
  yAxis.push(axis(7, -0.02, 1.02, SWEEP_TICKS, fmt1));
  xAxis.push(axis(8, Y_RANGE[0], Y_RANGE[1], CB1_TICKS, fmtInt, { splitLine: { show: false } }));
  yAxis.push(axis(8, 0, 1, null, fmt1, { axisLine: { show: false } }));
  xAxis.push(axis(9, PHASE_RANGE[0], PHASE_RANGE[1], CB2_TICKS, fmtPhase, { splitLine: { show: false } }));
  yAxis.push(axis(9, 0, 1, null, fmt1, { axisLine: { show: false } }));

  const series: any[] = [];
  const scatterBase = (idx: number, data: number[][], opacity: number, size: number) => ({
    type: "scatter",
    xAxisIndex: idx,
    yAxisIndex: idx,
    data,
    symbolSize: size,
    itemStyle: { opacity, borderWidth: 0 },
    silent: true,
    z: 2,
  });
  [2, 3, 4].forEach((col, i) => {
    series.push(scatterBase(i, HETERO_POINTS.map((p) => [p[0], p[1], p[col]]), 0.8, 7));
  });
  series.push(scatterBase(4, OSC_FID0.map((p) => [p[0], p[1], p[2]]), 0.75, 7));
  series.push(scatterBase(5, OSC_FID50.map((p) => [p[0], p[1], p[2]]), 0.75, 7));
  series.push(scatterBase(6, OSC_FID100_POLAR.map((p) => [p[0] * Math.cos(p[1]), p[0] * Math.sin(p[1]), p[1]]), 0.75, 7));

  const addSweep = (idx: number, mean: number[], sd: number[]) => {
    series.push({
      type: "custom",
      xAxisIndex: idx,
      yAxisIndex: idx,
      data: [[0, 0]],
      silent: true,
      z: 1,
      renderItem: (_p: any, api: any) => {
        const upper = SWEEP_X.map((x, i) => api.coord([x, mean[i] + sd[i]]));
        const lower = SWEEP_X.map((x, i) => api.coord([x, mean[i] - sd[i]])).reverse();
        return { type: "polygon", shape: { points: upper.concat(lower) }, style: { fill: "rgba(179,88,6,0.2)" } };
      },
    });
    series.push({
      type: "line",
      xAxisIndex: idx,
      yAxisIndex: idx,
      data: SWEEP_X.map((x, i) => [x, mean[i]]),
      symbol: "none",
      silent: true,
      z: 3,
      lineStyle: { color: LINE_COLOR, width: 5 },
      markLine: {
        silent: true,
        symbol: ["none", "none"],
        label: { show: false },
        z: 2,
        lineStyle: { color: "#666", type: [8, 4.5], width: 2.2 },
        data: [{ yAxis: THRESHOLD }],
      },
    });
  };
  addSweep(3, CLEAN_MEAN, CLEAN_SD);
  addSweep(7, FID_MEAN, FID_SD);

  const colorbar = (idx: number, range: number[], colors: string[]) => ({
    type: "custom",
    xAxisIndex: idx,
    yAxisIndex: idx,
    data: [[range[0], 0, range[1], 1]],
    silent: true,
    encode: { x: [0, 2], y: [1, 3] },
    renderItem: (_p: any, api: any) => {
      const p0 = api.coord([api.value(0), api.value(1)]);
      const p1 = api.coord([api.value(2), api.value(3)]);
      const stops = colors.map((c, i) => ({ offset: i / (colors.length - 1), color: c }));
      return {
        type: "rect",
        shape: { x: p0[0], y: p1[1], width: p1[0] - p0[0], height: p0[1] - p1[1] },
        style: { fill: new echarts.graphic.LinearGradient(0, 0, 1, 0, stops) },
      };
    },
  });
  series.push(colorbar(8, Y_RANGE, VIRIDIS));
  series.push(colorbar(9, PHASE_RANGE, TWILIGHT));

  const centers = [325, 925, 1525];
  const lineCenter = 2215;
  const elements: any[] = [];
  elements.push(text(1257, 34.5, "ContinuousOverlapIndex: distribution and multivariate sweeps", 40, { bold: true }));
  centers.forEach((cx, i) => {
    elements.push(text(cx, 101.6, `Clean-field fraction = ${CLEAN_LABELS[i]}\nCOI = ${CLEAN_COI[i]}`, TITLE_FS, { lineHeight: 34 }));
    elements.push(text(cx, 539, "Feature 1", LABEL_FS));
    elements.push(text(cx, 722, `Observation fidelity = ${FID_LABELS[i]}\nCOI = ${FID_COI[i]}`, TITLE_FS, { lineHeight: 34 }));
    elements.push(text(cx, 1159.5, "Feature 1", LABEL_FS));
  });
  elements.push(text(lineCenter, 117.6, "Score response", TITLE_FS));
  elements.push(text(lineCenter, 739.6, "Score response", TITLE_FS));
  elements.push(text(lineCenter, 539.5, "Clean-field fraction", LABEL_FS));
  elements.push(text(lineCenter, 1159.5, "Observation fidelity", LABEL_FS));
  elements.push(text(41.5, 311, "Heteroscedastic recovery\nFeature 2", LABEL_FS, { rotation: Math.PI / 2, lineHeight: 28 }));
  elements.push(text(41.5, 930.5, "Multivariate oscillator\nFeature 2", LABEL_FS, { rotation: Math.PI / 2, lineHeight: 28 }));
  elements.push(text(1842, 311, "Continuous Overlap Index", LABEL_FS, { rotation: Math.PI / 2 }));
  elements.push(text(1842, 930.5, "Continuous Overlap Index", LABEL_FS, { rotation: Math.PI / 2 }));
  elements.push(text(924, 665, "Continuous target y", LABEL_FS));
  elements.push(text(924, 1287, "Oscillator target phase", LABEL_FS));

  return {
    animation: false,
    backgroundColor: "#fff",
    textStyle: { fontFamily: FONT },
    grid: grids,
    xAxis,
    yAxis,
    visualMap: [
      { type: "continuous", show: false, min: Y_RANGE[0], max: Y_RANGE[1], dimension: 2, seriesIndex: [0, 1, 2], inRange: { color: VIRIDIS } },
      { type: "continuous", show: false, min: PHASE_RANGE[0], max: PHASE_RANGE[1], dimension: 2, seriesIndex: [3, 4, 5], inRange: { color: TWILIGHT } },
    ],
    series,
    graphic: { elements },
  };
}

export default function App() {
  const ref = useRef<HTMLDivElement | null>(null);
  useEffect(() => {
    if (!ref.current) return;
    const chart = echarts.init(ref.current, undefined, { renderer: "svg" });
    chart.setOption(buildOption() as any);
    return () => chart.dispose();
  }, []);
  return <div ref={ref} style={{ position: "fixed", left: 0, top: 0, width: 2546, height: 1319, background: "#fff" }} />;
}
